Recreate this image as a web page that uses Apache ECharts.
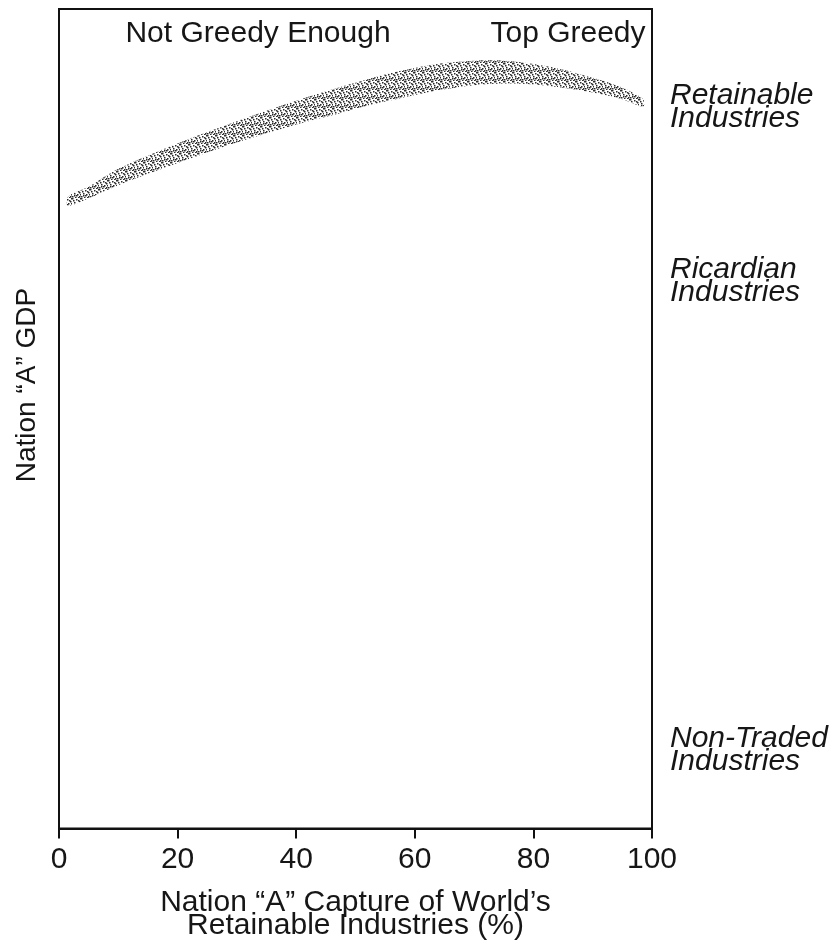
<!DOCTYPE html>
<html>
<head>
<meta charset="utf-8">
<script src="https://cdn.jsdelivr.net/npm/echarts@6/dist/echarts.min.js"></script>
<style>
html,body{margin:0;padding:0;background:#fff;}
#chart{width:834px;height:946px;}
</style>
</head>
<body>
<div id="chart"></div>
<script>
// Capture of world's retainable industries (%)
const captureX = [1.5, 5, 10, 20, 30, 40, 48, 50, 55, 60, 65, 70, 75, 80, 85, 90, 95, 98.5];
// Lower and upper edges of the GDP band (relative units, 0-100)
const gdpLower = [76.0, 76.9, 78.5, 81.2, 83.7, 85.9, 87.4, 87.8, 88.7, 89.5, 90.2, 90.7, 90.9, 90.8, 90.4, 89.8, 89.0, 88.1];
const gdpUpper = [77.1, 78.3, 80.5, 83.6, 86.3, 88.8, 90.6, 91.0, 92.0, 92.8, 93.4, 93.7, 93.7, 93.3, 92.6, 91.6, 90.4, 89.0];
const xTicks = [0, 20, 40, 60, 80, 100];
const topLabels = ['Not Greedy Enough', 'Top Greedy'];
const sideLabels = ['Retainable\nIndustries', 'Ricardian\nIndustries', 'Non-Traded\nIndustries'];
const xTitle = 'Nation \u201CA\u201D Capture of World\u2019s\nRetainable Industries (%)';
const yTitle = 'Nation \u201CA\u201D GDP';

const FONT = "'Liberation Sans', Arial, Helvetica, sans-serif";
const INK = '#161616';

// stipple pattern for the band (style only)
const pat = document.createElement('canvas');
pat.width = 9; pat.height = 9;
(function(){
  const c = pat.getContext('2d');
  c.fillStyle = 'rgba(25,25,25,0.92)';
  const pts = [[0,0],[4,1],[7,3],[2,4],[5,5],[0,7],[3,8],[7,7],[8,0],[1,2],[6,2],[4,6],[2,6],[6,8],[8,5]];
  pts.forEach(p => c.fillRect(p[0], p[1], 1.5, 1.5));
})();

const bandData = captureX.map((x, i) => [x, gdpLower[i], gdpUpper[i]]);

const chart = echarts.init(document.getElementById('chart'), null, {renderer: 'canvas'});
chart.setOption({
  backgroundColor: '#fff',
  animation: false,
  grid: {left: 59, right: 182, top: 9, bottom: 117, show: true, borderColor: '#111', borderWidth: 2, backgroundColor: 'transparent'},
  xAxis: {
    type: 'value', min: 0, max: 100, interval: 20,
    axisLine: {show: true, lineStyle: {color: '#111', width: 2}},
    axisTick: {show: true, length: 10, lineStyle: {color: '#111', width: 2}},
    splitLine: {show: false},
    axisLabel: {
      fontFamily: FONT, fontSize: 30, color: INK, margin: 16,
      formatter: v => xTicks.indexOf(v) >= 0 ? String(v) : ''
    },
    name: xTitle, nameLocation: 'middle', nameGap: 63,
    nameTextStyle: {fontFamily: FONT, fontSize: 30, color: INK, lineHeight: 23, align: 'center'}
  },
  yAxis: {
    type: 'value', min: 0, max: 100,
    axisLine: {show: false}, axisTick: {show: false}, axisLabel: {show: false}, splitLine: {show: false}
  },
  series: [
    {
      name: 'GDP band', type: 'custom', data: bandData, silent: true,
      encode: {x: 0, y: [1, 2]},
      renderItem: function (params, api) {
        if (params.dataIndex !== 0) return null;
        const pts = [];
        for (let i = 0; i < captureX.length; i++) pts.push(api.coord([captureX[i], gdpUpper[i]]));
        for (let i = captureX.length - 1; i >= 0; i--) pts.push(api.coord([captureX[i], gdpLower[i]]));
        return {
          type: 'polygon',
          shape: {points: pts, smooth: 0.3},
          style: {fill: {image: pat, repeat: 'repeat'}, stroke: null}
        };
      }
    }
  ],
  graphic: [
    {type: 'text', x: 258, y: 34, style: {text: topLabels[0], font: '30px ' + FONT, fill: INK, align: 'center', verticalAlign: 'middle'}},
    {type: 'text', x: 568, y: 34, style: {text: topLabels[1], font: '30px ' + FONT, fill: INK, align: 'center', verticalAlign: 'middle'}},
    {type: 'text', x: 670, y: 107, style: {text: sideLabels[0], font: 'italic 30px ' + FONT, fill: INK, align: 'left', verticalAlign: 'middle', lineHeight: 23}},
    {type: 'text', x: 670, y: 281, style: {text: sideLabels[1], font: 'italic 30px ' + FONT, fill: INK, align: 'left', verticalAlign: 'middle', lineHeight: 23}},
    {type: 'text', x: 670, y: 750, style: {text: sideLabels[2], font: 'italic 30px ' + FONT, fill: INK, align: 'left', verticalAlign: 'middle', lineHeight: 23}},
    {type: 'text', x: 27, y: 385, rotation: Math.PI / 2, style: {text: yTitle, font: '28px ' + FONT, fill: INK, align: 'center', verticalAlign: 'middle'}}
  ]
});
</script>
</body>
</html>
